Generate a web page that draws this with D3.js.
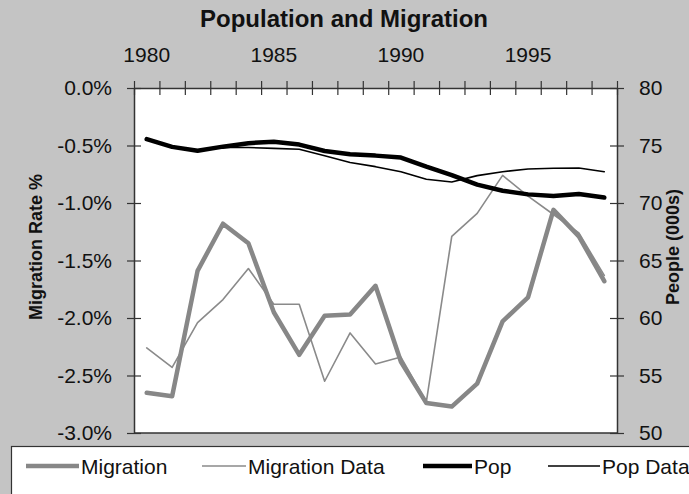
<!DOCTYPE html>
<html>
<head>
<meta charset="utf-8">
<script src="https://cdn.jsdelivr.net/npm/d3@7"></script>
<style>
  html, body { margin: 0; padding: 0; background: #c4c4c4; }
  svg { display: block; font-family: "Liberation Sans", Arial, sans-serif; }
</style>
</head>
<body>
<svg id="chart" width="689" height="494"></svg>
<script>
// Years on the category axis
const years = [1980, 1981, 1982, 1983, 1984, 1985, 1986, 1987, 1988, 1989,
               1990, 1991, 1992, 1993, 1994, 1995, 1996, 1997, 1998];
const yearLabels = [1980, 1985, 1990, 1995];

// Net migration rate (%), model and observed
const migration = [-2.65, -2.68, -1.59, -1.18, -1.35, -1.95, -2.32, -1.98, -1.97, -1.72,
                   -2.38, -2.74, -2.77, -2.57, -2.03, -1.82, -1.06, -1.29, -1.68];
const migrationData = [-2.26, -2.43, -2.04, -1.84, -1.57, -1.88, -1.88, -2.55, -2.13, -2.40,
                       -2.34, -2.73, -1.29, -1.09, -0.76, -0.94, -1.10, -1.26, -1.63];

// Population (000s), model and observed
const pop = [75.55, 74.88, 74.55, 74.90, 75.20, 75.33, 75.08, 74.52, 74.23, 74.12,
             73.95, 73.16, 72.43, 71.60, 71.07, 70.75, 70.60, 70.78, 70.47];
const popData = [75.50, 74.85, 74.55, 74.82, 74.82, 74.75, 74.68, 74.10, 73.52, 73.16,
                 72.72, 72.06, 71.82, 72.38, 72.72, 72.96, 73.02, 73.05, 72.72];

// Axis tick values
const rateTicks = [0, -0.5, -1.0, -1.5, -2.0, -2.5, -3.0];
const peopleTicks = [80, 75, 70, 65, 60, 55, 50];

const svg = d3.select("#chart");
const W = 689, H = 494;
const plot = { left: 134, right: 617, top: 88, bottom: 433 };
const axisColor = "#333";
const textColor = "#111";

svg.append("rect").attr("width", W).attr("height", H).attr("fill", "#c4c4c4");
svg.append("rect")
  .attr("x", plot.left).attr("y", plot.top)
  .attr("width", plot.right - plot.left).attr("height", plot.bottom - plot.top)
  .attr("fill", "#fff");

// Scales
const x = d3.scaleBand().domain(years).range([plot.left, plot.right]).paddingInner(0).paddingOuter(0);
const xEdge = d3.scaleLinear().domain([0, years.length]).range([plot.left, plot.right]);
const yRate = d3.scaleLinear().domain([-3, 0]).range([plot.bottom, plot.top]);
const yPeople = d3.scaleLinear().domain([50, 80]).range([plot.bottom, plot.top]);
const cx = d => x(d) + x.bandwidth() / 2;

// Title
svg.append("text")
  .attr("x", 344).attr("y", 27)
  .attr("text-anchor", "middle")
  .attr("font-size", 24).attr("font-weight", "bold").attr("fill", textColor)
  .text("Population and Migration");

// Ticks that cross the axis line on both sides
function crossTicks(g, orient) {
  g.selectAll(".tick line").each(function () {
    const l = d3.select(this);
    if (orient === "h") l.attr("y1", -7).attr("y2", 7);
    else l.attr("x1", -7).attr("x2", 7);
  });
  g.select(".domain").attr("stroke", axisColor).attr("stroke-width", 1.5);
  g.selectAll(".tick line").attr("stroke", axisColor).attr("stroke-width", 1.2);
}

// Bottom frame line
svg.append("line")
  .attr("x1", plot.left).attr("x2", plot.right)
  .attr("y1", plot.bottom).attr("y2", plot.bottom)
  .attr("stroke", axisColor).attr("stroke-width", 1.5);

// Top category axis: ticks on band edges
const gTop = svg.append("g").attr("transform", `translate(0,${plot.top})`)
  .call(d3.axisTop(xEdge).tickValues(d3.range(0, years.length + 1)).tickFormat("").tickSizeOuter(0));
crossTicks(gTop, "h");

// Top category labels at band centres
svg.append("g").selectAll("text")
  .data(yearLabels)
  .join("text")
  .attr("x", d => cx(d)).attr("y", 62)
  .attr("text-anchor", "middle")
  .attr("font-size", 21).attr("fill", textColor)
  .text(d => d);

// Left rate axis
const gLeft = svg.append("g").attr("transform", `translate(${plot.left},0)`)
  .call(d3.axisLeft(yRate).tickValues(rateTicks).tickFormat(d => d.toFixed(1) + "%").tickSizeOuter(0).tickPadding(16));
crossTicks(gLeft, "v");
gLeft.selectAll(".tick text").attr("font-size", 21).attr("fill", textColor)
  .attr("font-family", "'Liberation Sans', Arial, sans-serif");

// Right people axis
const gRight = svg.append("g").attr("transform", `translate(${plot.right},0)`)
  .call(d3.axisRight(yPeople).tickValues(peopleTicks).tickFormat(d3.format("d")).tickSizeOuter(0).tickPadding(16));
crossTicks(gRight, "v");
gRight.selectAll(".tick text").attr("font-size", 21).attr("fill", textColor)
  .attr("font-family", "'Liberation Sans', Arial, sans-serif");

// Axis titles
svg.append("text")
  .attr("transform", "translate(42,247) rotate(-90)")
  .attr("text-anchor", "middle")
  .attr("font-size", 18).attr("font-weight", "bold").attr("fill", textColor)
  .text("Migration Rate %");
svg.append("text")
  .attr("transform", "translate(679,247) rotate(-90)")
  .attr("text-anchor", "middle")
  .attr("font-size", 18).attr("font-weight", "bold").attr("fill", textColor)
  .text("People (000s)");

// Series
const series = [
  { name: "Migration Data", values: migrationData, y: yRate, color: "#8a8a8a", width: 1.6 },
  { name: "Migration", values: migration, y: yRate, color: "#878787", width: 4.5 },
  { name: "Pop Data", values: popData, y: yPeople, color: "#000", width: 1.6 },
  { name: "Pop", values: pop, y: yPeople, color: "#000", width: 4.5 }
];

const gLines = svg.append("g");
series.forEach(s => {
  const line = d3.line()
    .x((d, i) => cx(years[i]))
    .y(d => s.y(d))
    .curve(d3.curveLinear);
  gLines.append("path")
    .datum(s.values)
    .attr("d", line)
    .attr("fill", "none")
    .attr("stroke", s.color)
    .attr("stroke-width", s.width)
    .attr("stroke-linejoin", "round")
    .attr("stroke-linecap", "round");
});

// Legend box
svg.append("rect")
  .attr("x", 11.5).attr("y", 446.5)
  .attr("width", 700).attr("height", 60)
  .attr("fill", "#fff").attr("stroke", axisColor).attr("stroke-width", 1.2);

const legendItems = [
  { name: "Migration", color: "#878787", width: 4.5, x0: 26, x1: 79 },
  { name: "Migration Data", color: "#8a8a8a", width: 1.6, x0: 202, x1: 246 },
  { name: "Pop", color: "#000", width: 4.5, x0: 423, x1: 472 },
  { name: "Pop Data", color: "#000", width: 1.6, x0: 548, x1: 600 }
];
const gLeg = svg.append("g");
legendItems.forEach(it => {
  gLeg.append("line")
    .attr("x1", it.x0).attr("x2", it.x1)
    .attr("y1", 466).attr("y2", 466)
    .attr("stroke", it.color).attr("stroke-width", it.width);
  gLeg.append("text")
    .attr("x", it.x1 + 2).attr("y", 473.5)
    .attr("font-size", 21).attr("fill", textColor)
    .text(it.name);
});
</script>
</body>
</html>
